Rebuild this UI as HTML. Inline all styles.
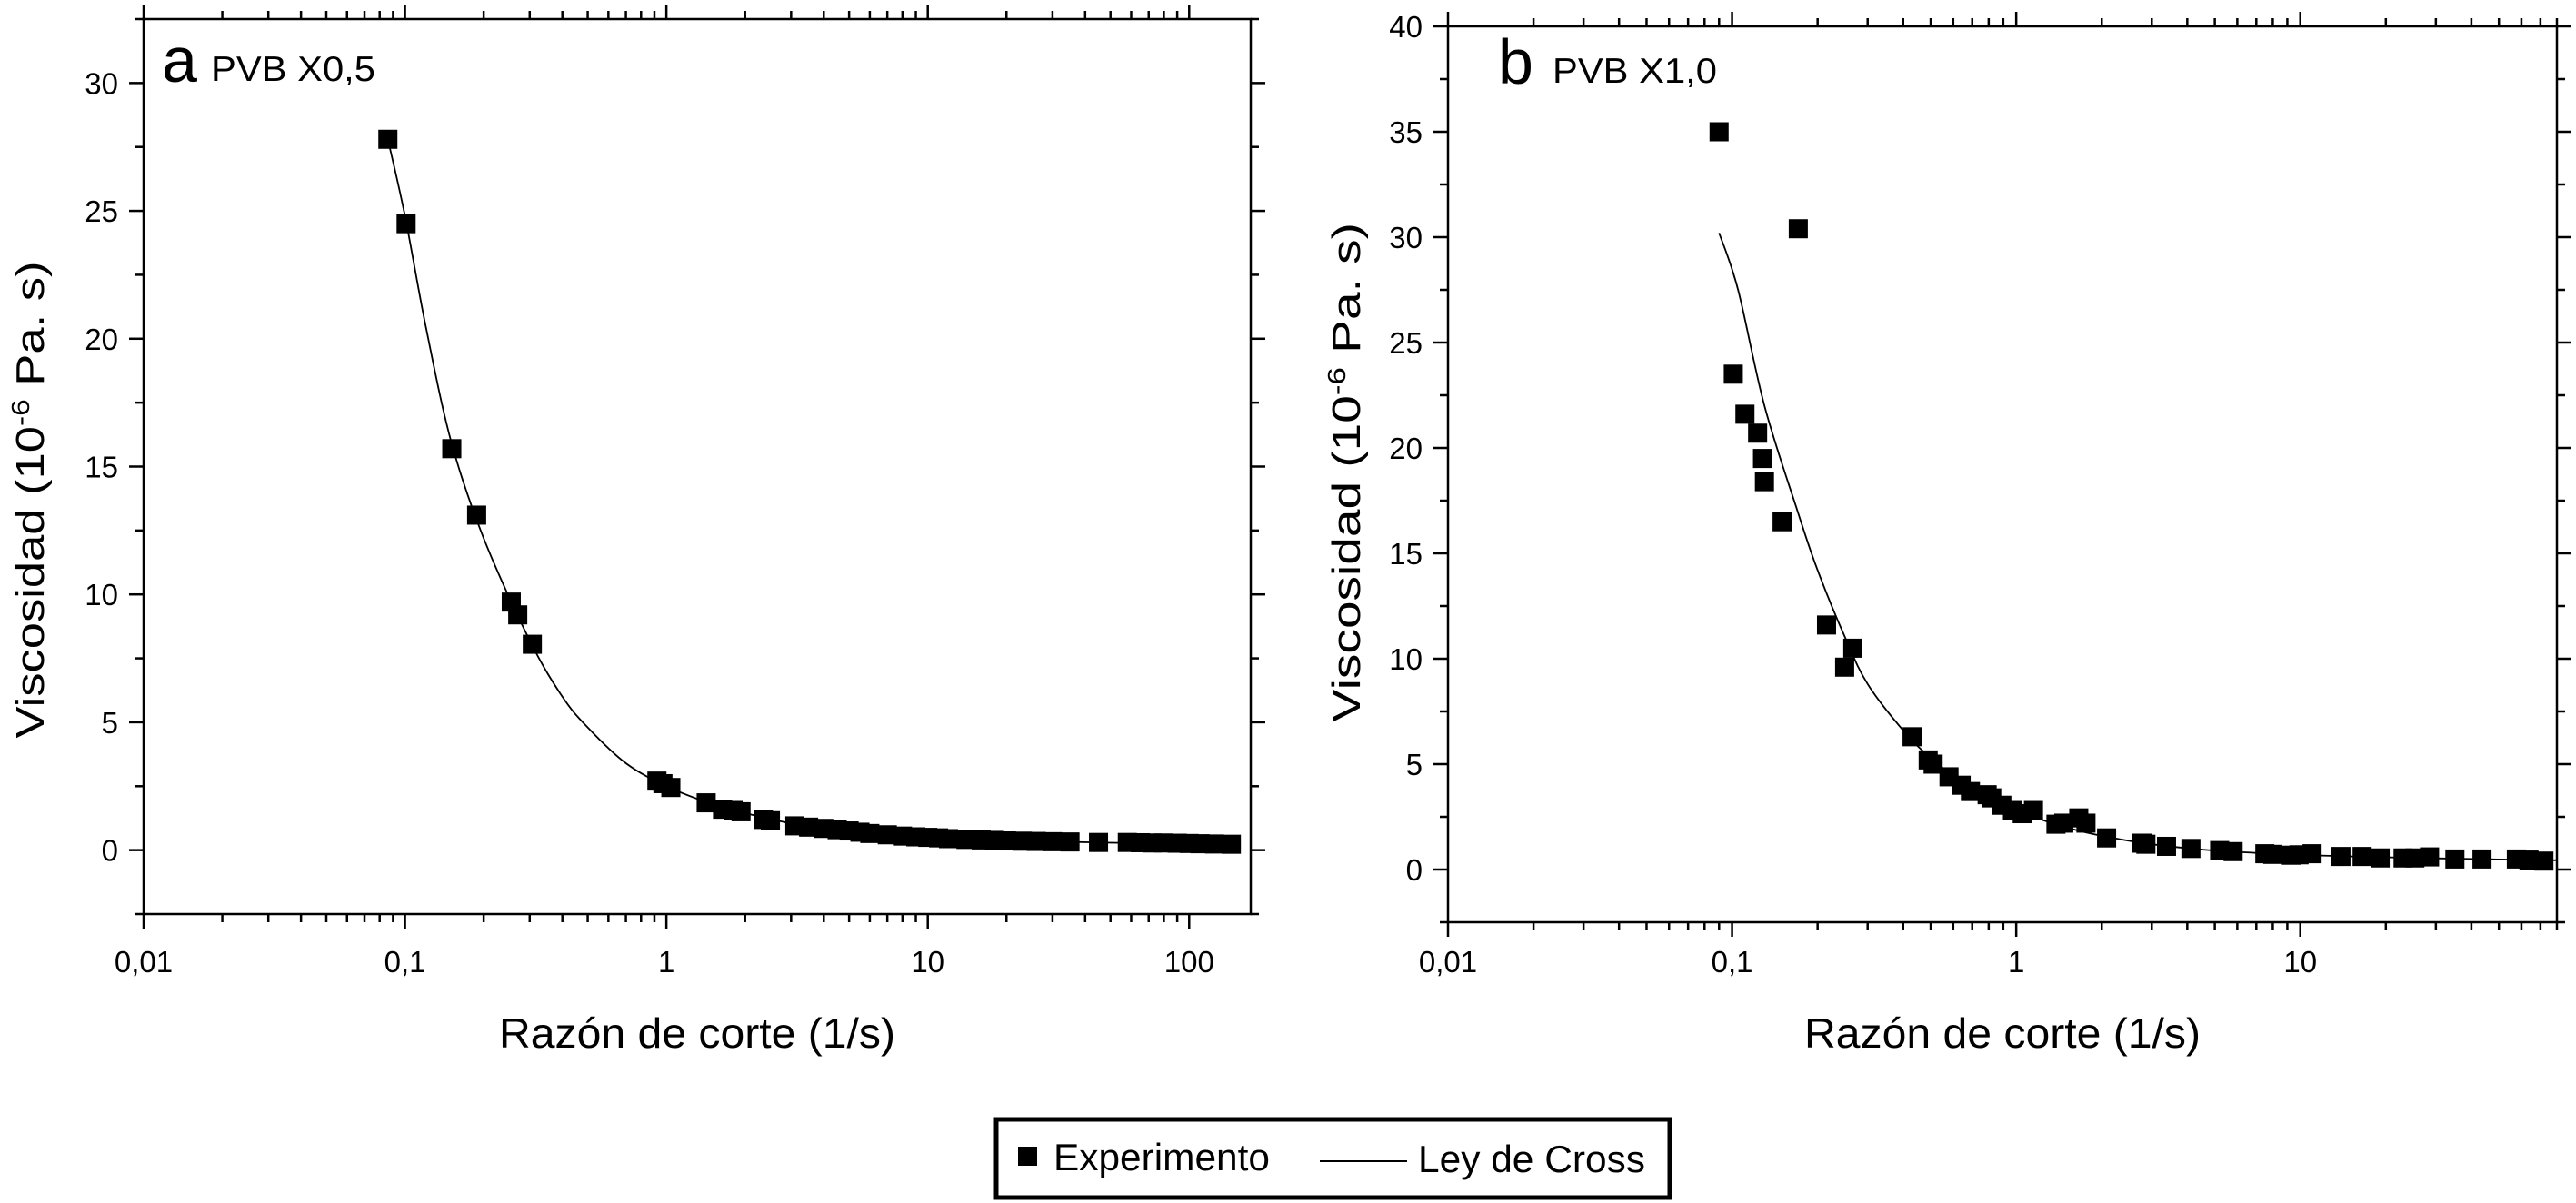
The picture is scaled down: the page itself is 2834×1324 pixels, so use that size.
<!DOCTYPE html>
<html><head><meta charset="utf-8"><style>
html,body{margin:0;padding:0;background:#fff;}
svg{display:block;font-family:"Liberation Sans",sans-serif;}
</style></head><body>
<svg id="chart" width="2834" height="1324" viewBox="0 0 2834 1324" xmlns="http://www.w3.org/2000/svg">
<g id="pa"></g>
<g id="pb"></g>
<g>
<rect x="1096" y="1232" width="741" height="86" fill="#fff" stroke="#000" stroke-width="5"/>
<rect x="1120" y="1262" width="21" height="21" fill="#000"/>
<text x="1159" y="1288" font-size="42" textLength="238" lengthAdjust="spacingAndGlyphs">Experimento</text>
<line x1="1452" y1="1278" x2="1548" y2="1278" stroke="#000" stroke-width="2"/>
<text x="1560" y="1290" font-size="42" textLength="250" lengthAdjust="spacingAndGlyphs">Ley de Cross</text>
</g>
</svg>
<script>
// Panel a data
const aShear = [0.086,0.101,0.151,0.188,0.255,0.27,0.307,0.92,0.97,1.04,1.42,1.64,1.8,1.93,2.35,2.5,3.1,3.5,4,4.5,5,5.5,6,7,8,9,10,11,12,14,16,18,20,23,26,30,35,45,58,65,72,80,90,100,110,125,145];
const aVisc = [27.8,24.5,15.7,13.1,9.7,9.2,8.05,2.7,2.6,2.45,1.85,1.6,1.55,1.5,1.2,1.15,0.95,0.9,0.85,0.8,0.75,0.7,0.65,0.6,0.55,0.52,0.5,0.48,0.45,0.42,0.4,0.38,0.36,0.35,0.34,0.33,0.32,0.3,0.3,0.29,0.28,0.28,0.27,0.26,0.25,0.24,0.23];
const aFitShear = [0.086,0.1,0.12,0.15,0.2,0.3,0.4,0.5,0.7,1,1.5,2,3,5,10,20,50,150];
const aFitVisc = [27.8,24.8,20.5,16,12.2,8.2,6.0,4.8,3.4,2.5,1.8,1.45,1.05,0.75,0.5,0.37,0.29,0.24];
// Panel b data
const bShear = [0.090,0.171,0.101,0.111,0.123,0.128,0.130,0.150,0.215,0.249,0.266,0.43,0.49,0.51,0.58,0.64,0.69,0.79,0.82,0.89,0.97,1.05,1.15,1.38,1.47,1.66,1.76,2.08,2.77,2.86,3.38,4.12,5.2,5.8,7.5,8.0,9.3,9.9,11,13.9,16.5,19.1,23,25.3,28.5,35,43.6,57.6,63.8,72];
const bVisc = [35.0,30.4,23.5,21.6,20.7,19.5,18.4,16.5,11.6,9.6,10.5,6.3,5.2,5.0,4.4,4.0,3.7,3.55,3.4,3.05,2.8,2.65,2.8,2.15,2.2,2.45,2.2,1.5,1.25,1.2,1.1,1.0,0.9,0.85,0.75,0.72,0.68,0.7,0.75,0.62,0.62,0.55,0.55,0.55,0.6,0.5,0.5,0.5,0.45,0.4];
const bFitShear = [0.09,0.105,0.13,0.17,0.2,0.25,0.3,0.4,0.5,0.7,1,1.5,2,3,5,10,20,50,80];
const bFitVisc = [30.2,27.5,22,17,14.2,11,8.8,6.6,5.3,3.8,2.8,2.0,1.6,1.2,0.9,0.7,0.58,0.48,0.44];
const xTickLabels = ["0,01","0,1","1","10","100"];
const aYTicks = [0,5,10,15,20,25,30];
const bYTicks = [0,5,10,15,20,25,30,35,40];

const NS="http://www.w3.org/2000/svg";
function mk(parent,tag,attrs,txt){const e=document.createElementNS(NS,tag);for(const k in attrs)e.setAttribute(k,attrs[k]);if(txt!==undefined)e.textContent=txt;parent.appendChild(e);return e;}

function smoothPath(pts){
  let d='M'+pts[0][0].toFixed(1)+','+pts[0][1].toFixed(1);
  for(let i=0;i<pts.length-1;i++){
    const p0=pts[Math.max(0,i-1)],p1=pts[i],p2=pts[i+1],p3=pts[Math.min(pts.length-1,i+2)];
    const c1x=p1[0]+(p2[0]-p0[0])/6,c1y=p1[1]+(p2[1]-p0[1])/6;
    const c2x=p2[0]-(p3[0]-p1[0])/6,c2y=p2[1]-(p3[1]-p1[1])/6;
    d+='C'+c1x.toFixed(1)+','+c1y.toFixed(1)+' '+c2x.toFixed(1)+','+c2y.toFixed(1)+' '+p2[0].toFixed(1)+','+p2[1].toFixed(1);
  }
  return d;
}

function panel(g,cfg,sx,sy,fx,fy,yTicks,letter,title){
  const {L,R,T,B,xmin,xmax,ymin,ymax}=cfg;
  const X=v=>L+(Math.log10(v)-Math.log10(xmin))/(Math.log10(xmax)-Math.log10(xmin))*(R-L);
  const Y=v=>B-(v-ymin)/(ymax-ymin)*(B-T);
  const fr=mk(g,'rect',{x:L,y:T,width:R-L,height:B-T,fill:'none',stroke:'#000','stroke-width':2.5});
  
  
  for(let d=-2;d<=2;d++){
    for(let m=1;m<10;m++){
      const v=m*Math.pow(10,d);
      if(v<xmin*0.999||v>xmax)continue;
      const x=X(v), len=(m===1)?16:9;
      mk(g,'line',{x1:x,y1:B,x2:x,y2:B+len,stroke:'#000','stroke-width':2.5});
      mk(g,'line',{x1:x,y1:T,x2:x,y2:T-len,stroke:'#000','stroke-width':2.5});
      if(m===1){
        const t=mk(g,'text',{x:x,y:1070,'font-size':33,'text-anchor':'middle'},xTickLabels[d+2]);
        
        
      }
    }
  }
  for(let v=ymin;v<=ymax+0.001;v+=2.5){
    const y=Y(v), major=Math.abs(v%5)<0.01, len=major?16:9;
    mk(g,'line',{x1:L,y1:y,x2:L-len,y2:y,stroke:'#000','stroke-width':2.5});
    mk(g,'line',{x1:R,y1:y,x2:R+len,y2:y,stroke:'#000','stroke-width':2.5});
  }
  yTicks.forEach(v=>{
    const t=mk(g,'text',{x:L-28,y:Y(v)+12,'font-size':33,'text-anchor':'end'},String(v));
    
    
  });
  const pts=fx.map((v,i)=>[X(v),Y(fy[i])]);
  const p=mk(g,'path',{d:smoothPath(pts),fill:'none',stroke:'#000','stroke-width':1.8});
  
  
  sx.forEach((v,i)=>{
    const r=mk(g,'rect',{x:X(v)-10.5,y:Y(sy[i])-10.5,width:21,height:21,fill:'#000'});
    
    
  });
  const lt=mk(g,'text',{x:letter.x,y:letter.y,'font-size':70},letter.ch);
  
  
  const st=mk(g,'text',{x:letter.x2,y:letter.y-1,'font-size':39,textLength:181,lengthAdjust:'spacingAndGlyphs'},title);
  
  
  const xt=mk(g,'text',{x:(L+R)/2+cfg.xtOff,y:1153,'font-size':46,'text-anchor':'middle',textLength:436,lengthAdjust:'spacingAndGlyphs'},'Razón de corte (1/s)');
  
  
  const yt=mk(g,'text',{x:0,y:0,'font-size':44,'text-anchor':'middle',textLength:cfg.ytLen,lengthAdjust:'spacingAndGlyphs',transform:`translate(${cfg.ytx},${cfg.yty}) rotate(-90)`});
  
  
  yt.appendChild(document.createTextNode('Viscosidad (10'));
  mk(yt,'tspan',{dy:-16,'font-size':28},'-6');
  mk(yt,'tspan',{dy:16},' Pa. s)');
}

panel(document.getElementById('pa'),
  {L:158,R:1376,T:21,B:1006,xmin:0.01,xmax:172,ymin:-2.5,ymax:32.5,xtOff:0,ytx:48,yty:550,ytLen:525},
  aShear,aVisc,aFitShear,aFitVisc,aYTicks,{ch:'a',x:178,y:90,x2:232},'PVB X0,5');
panel(document.getElementById('pb'),
  {L:1593,R:2813,T:29,B:1015,xmin:0.01,xmax:80,ymin:-2.5,ymax:40,xtOff:0,ytx:1496,yty:520,ytLen:550},
  bShear,bVisc,bFitShear,bFitVisc,bYTicks,{ch:'b',x:1648,y:92,x2:1708},'PVB X1,0');
</script>
</body></html>
